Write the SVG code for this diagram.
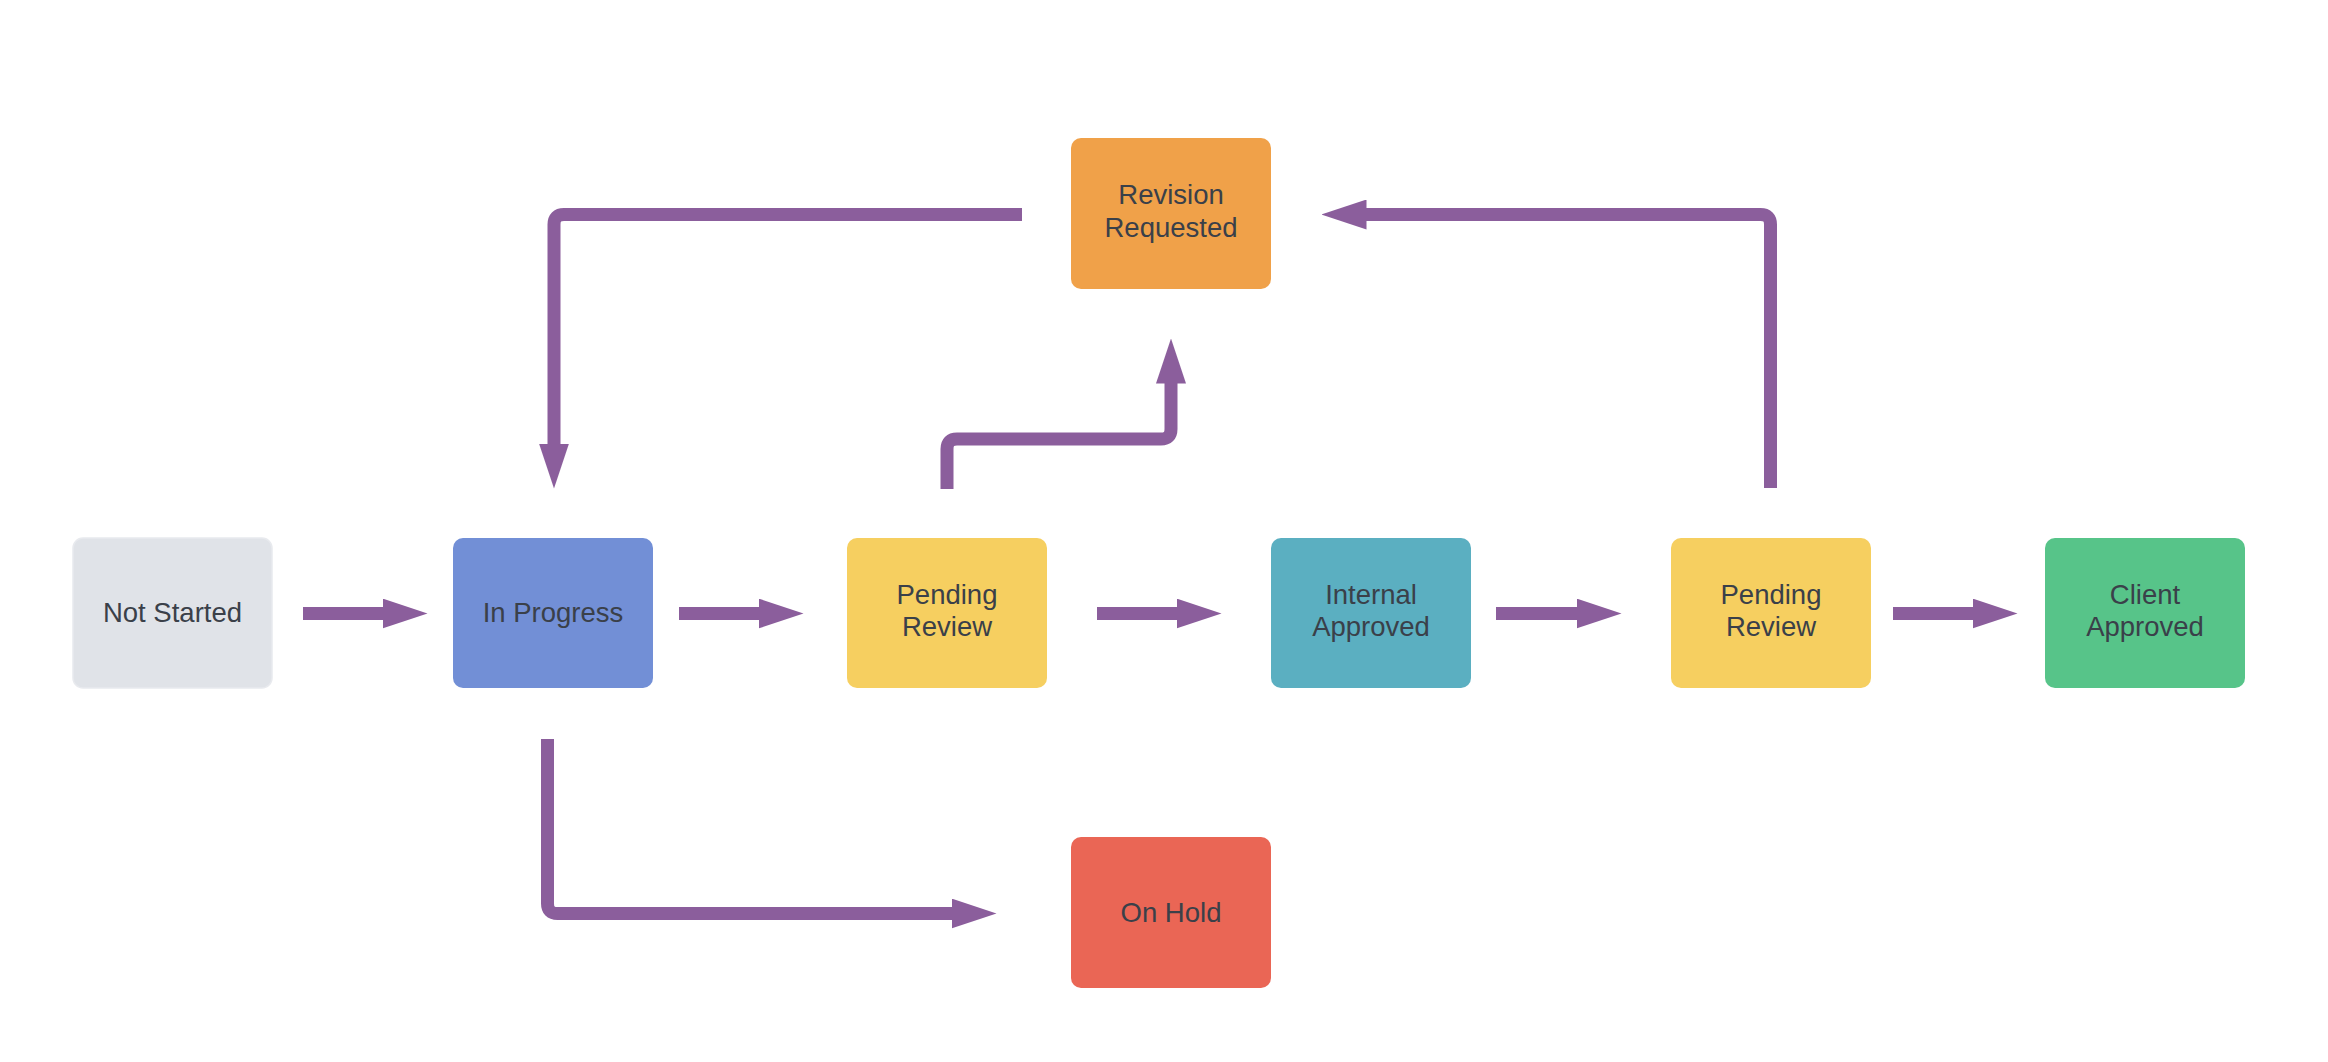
<svg xmlns="http://www.w3.org/2000/svg" width="2328" height="1062" viewBox="0 0 2328 1062">
<style>
.node rect{rx:10;ry:10}
.node text{font-family:"Liberation Sans",Arial,sans-serif;font-size:27.5px;fill:#3A4049;text-anchor:middle}
.conn path{fill:none;stroke:#8B5E9C;stroke-width:13;stroke-linejoin:round;marker-end:url(#ah)}
</style>
<defs>
<marker id="ah" markerUnits="userSpaceOnUse" viewBox="0 0 45 30" markerWidth="45" markerHeight="30" refX="0.5" refY="15" orient="auto">
<path d="M0,0 L45,15 L0,30 Z" fill="#8B5E9C"/>
</marker>
</defs>
<rect width="2328" height="1062" fill="#FFFFFF"/>
<g class="conn" id="connectors">
<path d="M303 613.5 H383"/>
<path d="M679 613.5 H759"/>
<path d="M1097 613.5 H1177"/>
<path d="M1496 613.5 H1577"/>
<path d="M1893 613.5 H1973"/>
<path d="M1022 214.5 H564 Q554 214.5 554 224.5 V444"/>
<path d="M947 489 V449 Q947 439 957 439 H1161 Q1171 439 1171 429 V383"/>
<path d="M1770.5 488 V224.5 Q1770.5 214.5 1760.5 214.5 H1366"/>
<path d="M547.5 739 V903.5 Q547.5 913.5 557.5 913.5 H952"/>
</g>
<g class="node" id="not-started">
<rect x="73" y="538" width="199" height="150" fill="#E0E3E8" stroke="#E8EAEE" stroke-width="1.5"/>
<text x="172.5" y="622">Not Started</text>
</g>
<g class="node" id="in-progress">
<rect x="453" y="538" width="200" height="150" fill="#728FD6"/>
<text x="553" y="622">In Progress</text>
</g>
<g class="node" id="pending-review-1">
<rect x="847" y="538" width="200" height="150" fill="#F6CF60"/>
<text x="947" y="603.5">Pending</text>
<text x="947" y="636">Review</text>
</g>
<g class="node" id="internal-approved">
<rect x="1271" y="538" width="200" height="150" fill="#5BAFC1"/>
<text x="1371" y="603.5">Internal</text>
<text x="1371" y="636">Approved</text>
</g>
<g class="node" id="pending-review-2">
<rect x="1671" y="538" width="200" height="150" fill="#F6CF60"/>
<text x="1771" y="603.5">Pending</text>
<text x="1771" y="636">Review</text>
</g>
<g class="node" id="client-approved">
<rect x="2045" y="538" width="200" height="150" fill="#57C489"/>
<text x="2145" y="603.5">Client</text>
<text x="2145" y="636">Approved</text>
</g>
<g class="node" id="revision-requested">
<rect x="1071" y="138" width="200" height="151" fill="#F0A149"/>
<text x="1171" y="204">Revision</text>
<text x="1171" y="236.5">Requested</text>
</g>
<g class="node" id="on-hold">
<rect x="1071" y="837" width="200" height="151" fill="#EA6655"/>
<text x="1171" y="921.5">On Hold</text>
</g>
</svg>
